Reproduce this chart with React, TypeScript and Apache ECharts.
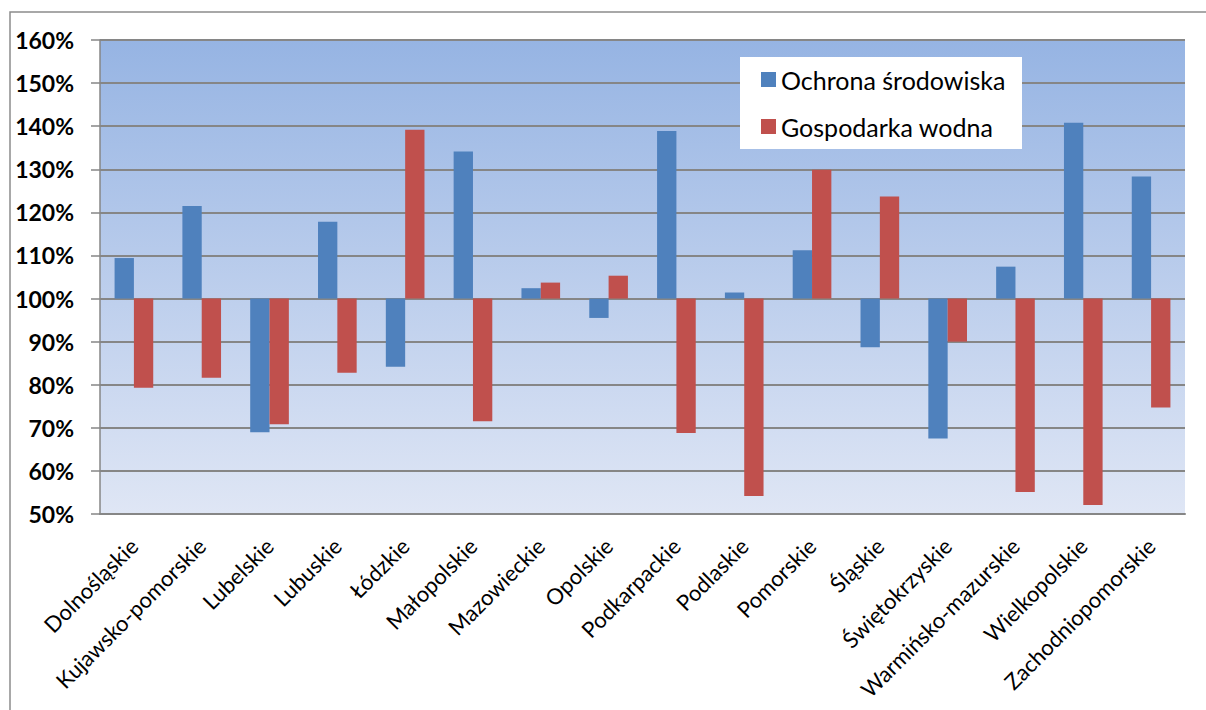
import React, { useEffect, useRef } from 'react';
import * as echarts from 'echarts';

const categories = [
  'Dolnośląskie', 'Kujawsko-pomorskie', 'Lubelskie', 'Lubuskie', 'Łódzkie', 'Małopolskie',
  'Mazowieckie', 'Opolskie', 'Podkarpackie', 'Podlaskie', 'Pomorskie', 'Śląskie',
  'Świętokrzyskie', 'Warmińsko-mazurskie', 'Wielkopolskie', 'Zachodniopomorskie',
];
const seriesNames = ['Ochrona środowiska', 'Gospodarka wodna'];
// values in percent (100% = baseline)
const ochronaSrodowiska = [109.4, 121.5, 69.0, 117.8, 84.2, 134.1, 102.4, 95.5, 138.9, 101.4, 111.2, 88.7, 67.5, 107.4, 140.8, 128.3];
const gospodarkaWodna = [79.3, 81.6, 70.8, 82.8, 139.2, 71.5, 103.7, 105.3, 68.8, 54.2, 129.9, 123.7, 90.0, 55.1, 52.1, 74.7];
const BASELINE = 100;
const axisMin = 50;
const axisMax = 160;
const axisStep = 10;

export default function App() {
  const ref = useRef<HTMLDivElement>(null);
  useEffect(() => {
    const chart = echarts.init(ref.current!, null, { renderer: 'svg' });
    const font = 'Lato, "Open Sans", sans-serif';
    chart.setOption({
      animation: false,
      color: ['#4F81BD', '#C0504D'],
      grid: {
        left: 100, right: 21, top: 40, bottom: 196,
        show: true,
        borderWidth: 0,
        backgroundColor: new echarts.graphic.LinearGradient(0, 0, 0, 1, [
          { offset: 0, color: '#96b4e3' },
          { offset: 1, color: '#dfe6f5' },
        ]),
      },
      graphic: [
        {
          type: 'rect', z: 0, silent: true,
          shape: { x: 10, y: 12, width: 1400, height: 900 },
          style: { fill: 'none', stroke: '#8c8c8c', lineWidth: 1.5 },
        },
        {
          type: 'rect', z: 50, silent: true,
          shape: { x: 740, y: 57, width: 282, height: 92 },
          style: { fill: '#ffffff' },
        },
      ],
      legend: {
        z: 60,
        orient: 'vertical',
        left: 756,
        top: 62,
        itemGap: 22,
        itemWidth: 15,
        itemHeight: 15,
        icon: 'rect',
        data: seriesNames,
        textStyle: { fontFamily: font, fontSize: 25, color: '#000' },
      },
      xAxis: {
        type: 'category',
        data: categories,
        axisLine: { onZero: false, lineStyle: { color: '#868686', width: 2 } },
        axisTick: { show: false },
        axisLabel: {
          interval: 0, rotate: 45, margin: 28,
          fontFamily: font, fontSize: 22, color: '#000',
        },
      },
      yAxis: {
        type: 'value',
        min: axisMin - BASELINE,
        max: axisMax - BASELINE,
        interval: axisStep,
        axisLine: { show: true, lineStyle: { color: '#868686', width: 1.5 } },
        axisTick: { show: true, length: 9, lineStyle: { color: '#868686', width: 1.5 } },
        splitLine: { lineStyle: { color: '#868686', width: 2 } },
        axisLabel: {
          margin: 26,
          formatter: (v: number) => `${Math.round(v + BASELINE)}%`,
          fontFamily: font, fontSize: 23, fontWeight: 'bold', color: '#000',
        },
      },
      series: [
        {
          name: seriesNames[0], type: 'bar',
          data: ochronaSrodowiska.map((v) => +(v - BASELINE).toFixed(2)),
          barGap: '0%', barCategoryGap: '43%',
        },
        {
          name: seriesNames[1], type: 'bar',
          data: gospodarkaWodna.map((v) => +(v - BASELINE).toFixed(2)),
          barGap: '0%', barCategoryGap: '43%',
        },
      ],
    });
    return () => chart.dispose();
  }, []);
  return (
    <div
      ref={ref}
      style={{ position: 'absolute', left: 0, top: 0, width: 1206, height: 710, background: '#fff' }}
    />
  );
}
